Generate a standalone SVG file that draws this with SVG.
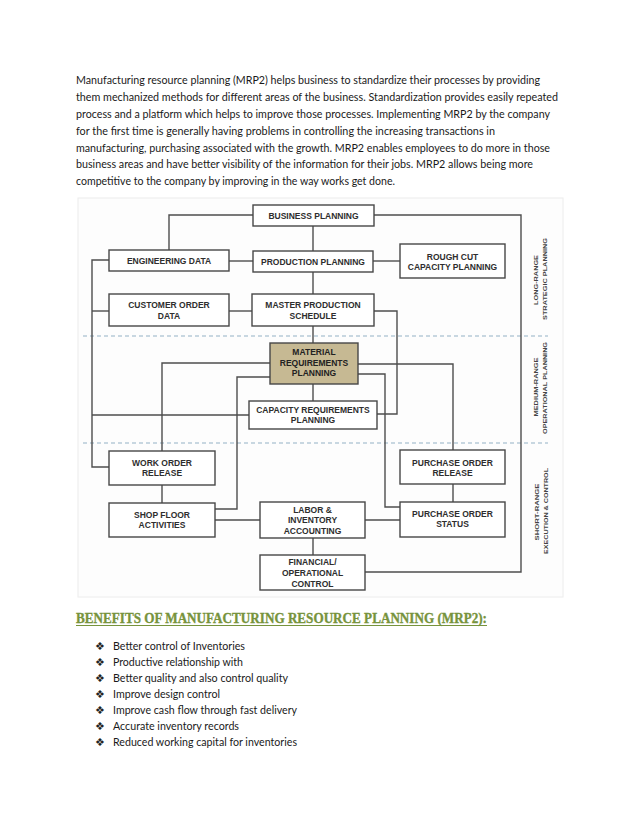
<svg xmlns="http://www.w3.org/2000/svg" width="638" height="826" viewBox="0 0 638 826">
<style>
.body{font-family:"Lato","Open Sans","Liberation Sans",sans-serif;font-size:11.5px;fill:#1a1a1a}
.box{fill:#ffffff;stroke:#474747;stroke-width:1.4}
.mrp{fill:#c6b993;stroke:#474747;stroke-width:1.4}
.lbl{font-family:"Liberation Sans","Arial",sans-serif;font-size:8.5px;font-weight:bold;fill:#2e2e2e;text-anchor:middle}
.side{font-family:"Liberation Sans","Arial",sans-serif;font-size:6px;font-weight:bold;fill:#444;text-anchor:middle}
.conn{fill:none;stroke:#4d4d4d;stroke-width:1.4}
.dash{fill:none;stroke:#93b2c6;stroke-width:1.1;stroke-dasharray:4 3}
.bul{font-family:"DejaVu Sans",sans-serif;font-size:11px;fill:#222;text-anchor:middle}
</style>
<rect width="638" height="826" fill="#ffffff"/>
<g id="paragraph">
<text class="body" x="76" y="84" textLength="464" lengthAdjust="spacingAndGlyphs">Manufacturing resource planning (MRP2) helps business to standardize their processes by providing</text>
<text class="body" x="76" y="101" textLength="482" lengthAdjust="spacingAndGlyphs">them mechanized methods for different areas of the business. Standardization provides easily repeated</text>
<text class="body" x="76" y="118" textLength="474" lengthAdjust="spacingAndGlyphs">process and a platform which helps to improve those processes. Implementing MRP2 by the company</text>
<text class="body" x="76" y="135" textLength="419" lengthAdjust="spacingAndGlyphs">for the first time is generally having problems in controlling the increasing transactions in</text>
<text class="body" x="76" y="152" textLength="474" lengthAdjust="spacingAndGlyphs">manufacturing, purchasing associated with the growth. MRP2 enables employees to do more in those</text>
<text class="body" x="76" y="168" textLength="457" lengthAdjust="spacingAndGlyphs">business areas and have better visibility of the information for their jobs. MRP2 allows being more</text>
<text class="body" x="76" y="185" textLength="319" lengthAdjust="spacingAndGlyphs">competitive to the company by improving in the way works get done.</text>
</g>
<rect id="panel" x="78" y="198" width="485" height="399" fill="#fdfdfd" stroke="#ececec" stroke-width="1"/>
<g id="bands">
<line class="dash" x1="83" y1="336" x2="548" y2="336"/>
<line class="dash" x1="83" y1="443" x2="548" y2="443"/>
<text class="side" transform="translate(537.5,280) rotate(-90)" textLength="50" lengthAdjust="spacingAndGlyphs">LONG-RANGE</text>
<text class="side" transform="translate(546.5,279) rotate(-90)" textLength="82" lengthAdjust="spacingAndGlyphs">STRATEGIC PLANNING</text>
<text class="side" transform="translate(537.5,387) rotate(-90)" textLength="59" lengthAdjust="spacingAndGlyphs">MEDIUM-RANGE</text>
<text class="side" transform="translate(546.5,388) rotate(-90)" textLength="92" lengthAdjust="spacingAndGlyphs">OPERATIONAL PLANNING</text>
<text class="side" transform="translate(538.5,512) rotate(-90)" textLength="57" lengthAdjust="spacingAndGlyphs">SHORT-RANGE</text>
<text class="side" transform="translate(547.5,511) rotate(-90)" textLength="86" lengthAdjust="spacingAndGlyphs">EXECUTION &amp; CONTROL</text>
</g>
<g id="connectors">
<path class="conn" d="M253,215 H169 V250"/>
<path class="conn" d="M374,215 H521 V572 H365"/>
<path class="conn" d="M313,226 V251"/>
<path class="conn" d="M313,272 V294"/>
<path class="conn" d="M313,326 V343"/>
<path class="conn" d="M313,384 V401"/>
<path class="conn" d="M229,261 H253"/>
<path class="conn" d="M373,261 H400"/>
<path class="conn" d="M229,311 H252"/>
<path class="conn" d="M109,260 H92 V467 H109"/>
<path class="conn" d="M92,311 H109"/>
<path class="conn" d="M92,415 H249"/>
<path class="conn" d="M374,311 H397 V414 H377"/>
<path class="conn" d="M270,363 H162 V451"/>
<path class="conn" d="M270,377 H237 V509 H215"/>
<path class="conn" d="M358,364 H453 V450"/>
<path class="conn" d="M358,374 H385 V507 H400"/>
<path class="conn" d="M162,485 V503"/>
<path class="conn" d="M215,520 H260"/>
<path class="conn" d="M365,520 H400"/>
<path class="conn" d="M313,538 V555"/>
<path class="conn" d="M453,484 V502"/>
</g>
<g id="business-planning">
<rect class="box" x="253" y="205" width="121" height="21"/>
<text class="lbl" x="313.5" y="218.5">BUSINESS PLANNING</text>
</g>
<g id="engineering-data">
<rect class="box" x="109" y="250" width="120" height="21"/>
<text class="lbl" x="169" y="263.5">ENGINEERING DATA</text>
</g>
<g id="production-planning">
<rect class="box" x="253" y="251" width="120" height="21"/>
<text class="lbl" x="313" y="264.5">PRODUCTION PLANNING</text>
</g>
<g id="rough-cut">
<rect class="box" x="400" y="244" width="105" height="34"/>
<text class="lbl" x="452.5" y="260">ROUGH CUT</text>
<text class="lbl" x="452.5" y="270">CAPACITY PLANNING</text>
</g>
<g id="customer-order-data">
<rect class="box" x="109" y="294" width="120" height="32"/>
<text class="lbl" x="169" y="308">CUSTOMER ORDER</text>
<text class="lbl" x="169" y="319">DATA</text>
</g>
<g id="master-production-schedule">
<rect class="box" x="252" y="294" width="122" height="32"/>
<text class="lbl" x="313" y="308">MASTER PRODUCTION</text>
<text class="lbl" x="313" y="319">SCHEDULE</text>
</g>
<g id="mrp">
<rect class="mrp" x="270" y="343" width="88" height="41"/>
<text class="lbl" x="314" y="355" style="fill:#222">MATERIAL</text>
<text class="lbl" x="314" y="365.5" style="fill:#222">REQUIREMENTS</text>
<text class="lbl" x="314" y="376" style="fill:#222">PLANNING</text>
</g>
<g id="capacity-requirements-planning">
<rect class="box" x="249" y="401" width="128" height="28"/>
<text class="lbl" x="313" y="413">CAPACITY REQUIREMENTS</text>
<text class="lbl" x="313" y="422.5">PLANNING</text>
</g>
<g id="work-order-release">
<rect class="box" x="109" y="451" width="106" height="34"/>
<text class="lbl" x="162" y="466">WORK ORDER</text>
<text class="lbl" x="162" y="476">RELEASE</text>
</g>
<g id="shop-floor-activities">
<rect class="box" x="109" y="503" width="106" height="34"/>
<text class="lbl" x="162" y="518">SHOP FLOOR</text>
<text class="lbl" x="162" y="528">ACTIVITIES</text>
</g>
<g id="labor-inventory-accounting">
<rect class="box" x="260" y="502" width="105" height="36"/>
<text class="lbl" x="312.5" y="513">LABOR &amp;</text>
<text class="lbl" x="312.5" y="523">INVENTORY</text>
<text class="lbl" x="312.5" y="534">ACCOUNTING</text>
</g>
<g id="financial-operational-control">
<rect class="box" x="260" y="555" width="105" height="35"/>
<text class="lbl" x="312.5" y="565">FINANCIAL/</text>
<text class="lbl" x="312.5" y="576">OPERATIONAL</text>
<text class="lbl" x="312.5" y="587">CONTROL</text>
</g>
<g id="purchase-order-release">
<rect class="box" x="400" y="450" width="105" height="34"/>
<text class="lbl" x="452.5" y="466">PURCHASE ORDER</text>
<text class="lbl" x="452.5" y="476">RELEASE</text>
</g>
<g id="purchase-order-status">
<rect class="box" x="400" y="502" width="105" height="35"/>
<text class="lbl" x="452.5" y="517">PURCHASE ORDER</text>
<text class="lbl" x="452.5" y="527">STATUS</text>
</g>
<g id="benefits">
<text x="76" y="623" textLength="411" lengthAdjust="spacingAndGlyphs" style="font-family:'Liberation Serif',serif;font-size:15px;font-weight:bold;fill:#77933c;stroke:#77933c;stroke-width:0.35">BENEFITS OF MANUFACTURING RESOURCE PLANNING (MRP2):</text>
<line x1="76" y1="625.5" x2="487" y2="625.5" stroke="#77933c" stroke-width="1"/>
<text class="bul" x="100" y="649.5">❖</text>
<text class="bul" x="100" y="665.5">❖</text>
<text class="bul" x="100" y="681.5">❖</text>
<text class="bul" x="100" y="697.5">❖</text>
<text class="bul" x="100" y="713.5">❖</text>
<text class="bul" x="100" y="729.5">❖</text>
<text class="bul" x="100" y="745.5">❖</text>
<text class="body" x="113" y="649.5" textLength="132" lengthAdjust="spacingAndGlyphs">Better control of Inventories</text>
<text class="body" x="113" y="665.5" textLength="130" lengthAdjust="spacingAndGlyphs">Productive relationship with</text>
<text class="body" x="113" y="681.5" textLength="175" lengthAdjust="spacingAndGlyphs">Better quality and also control quality</text>
<text class="body" x="113" y="697.5" textLength="107" lengthAdjust="spacingAndGlyphs">Improve design control</text>
<text class="body" x="113" y="713.5" textLength="184" lengthAdjust="spacingAndGlyphs">Improve cash flow through fast delivery</text>
<text class="body" x="113" y="729.5" textLength="126" lengthAdjust="spacingAndGlyphs">Accurate inventory records</text>
<text class="body" x="113" y="745.5" textLength="184" lengthAdjust="spacingAndGlyphs">Reduced working capital for inventories</text>
</g>
</svg>
